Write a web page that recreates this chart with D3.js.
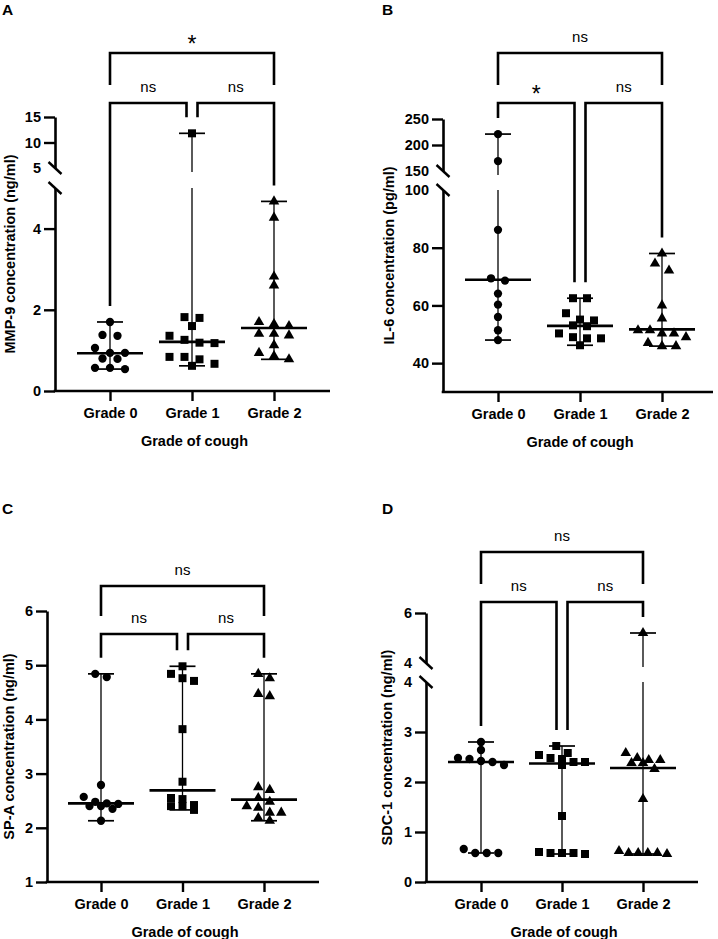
<!DOCTYPE html>
<html><head><meta charset="utf-8">
<script src="https://cdn.jsdelivr.net/npm/d3@7"></script>
<style>
body{margin:0;background:#fff}
svg{display:block}
text{font-family:"Liberation Sans",Arial,Helvetica,sans-serif;fill:#000}
</style>
</head><body>
<svg id="chart" width="718" height="939"></svg>
<script>
// ---------------- data ----------------
const categories = ["Grade 0", "Grade 1", "Grade 2"];
const xAxisTitle = "Grade of cough";

// A: MMP-9 (ng/ml)
const mmp9Grade0 = [1.70, 1.38, 1.36, 1.06, 0.94, 0.94, 0.80, 0.79, 0.57, 0.57, 0.54];
const mmp9Grade1 = [11.8, 1.82, 1.80, 1.60, 1.36, 1.26, 1.19, 1.18, 0.84, 0.84, 0.78, 0.67, 0.62];
const mmp9Grade2 = [4.67, 4.27, 2.82, 2.60, 1.70, 1.65, 1.60, 1.41, 1.37, 1.41, 1.13, 0.94, 0.86, 0.78];
const mmp9Medians = [0.93, 1.21, 1.55];
const mmp9TicksLower = [0, 2, 4];
const mmp9TicksUpper = [5, 10, 15];
const mmp9Sig = [["Grade 0", "Grade 2", "*"], ["Grade 0", "Grade 1", "ns"], ["Grade 1", "Grade 2", "ns"]];

// B: IL-6 (pg/ml)
const il6Grade0 = [221, 169, 86.2, 69.4, 68.6, 64.1, 60.3, 56.0, 51.4, 48.0];
const il6Grade1 = [62.5, 62.5, 57.3, 55.1, 54.8, 53.1, 52.8, 50.3, 49.0, 48.6, 48.6, 46.2];
const il6Grade2 = [78.0, 74.5, 72.1, 60.0, 55.5, 51.4, 51.4, 50.3, 50.3, 49.0, 47.0, 45.9, 45.9];
const il6Medians = [68.9, 52.9, 51.7];
const il6TicksLower = [40, 60, 80, 100];
const il6TicksUpper = [150, 200, 250];
const il6Sig = [["Grade 0", "Grade 2", "ns"], ["Grade 0", "Grade 1", "*"], ["Grade 1", "Grade 2", "ns"]];

// C: SP-A (ng/ml)
const spaGrade0 = [4.84, 4.78, 2.79, 2.57, 2.48, 2.45, 2.44, 2.40, 2.40, 2.35, 2.13];
const spaGrade1 = [4.98, 4.84, 4.76, 4.71, 3.82, 2.85, 2.55, 2.53, 2.42, 2.40, 2.40, 2.33];
const spaGrade2 = [4.84, 4.76, 4.47, 4.43, 2.75, 2.70, 2.55, 2.48, 2.40, 2.37, 2.28, 2.28, 2.18, 2.13];
const spaMedians = [2.45, 2.69, 2.52];
const spaTicks = [1, 2, 3, 4, 5, 6];
const spaSig = [["Grade 0", "Grade 2", "ns"], ["Grade 0", "Grade 1", "ns"], ["Grade 1", "Grade 2", "ns"]];

// D: SDC-1 (ng/ml)
const sdc1Grade0 = [2.80, 2.64, 2.48, 2.46, 2.42, 2.40, 2.34, 0.66, 0.58, 0.58, 0.58];
const sdc1Grade1 = [2.72, 2.58, 2.54, 2.48, 2.46, 2.40, 2.40, 2.34, 1.32, 0.60, 0.58, 0.58, 0.58, 0.56];
const sdc1Grade2 = [5.2, 2.58, 2.48, 2.44, 2.44, 2.38, 2.38, 2.26, 1.66, 0.62, 0.58, 0.58, 0.58, 0.58, 0.56];
const sdc1Medians = [2.40, 2.37, 2.28];
const sdc1TicksLower = [0, 1, 2, 3, 4];
const sdc1TicksUpper = [4, 6];
const sdc1Sig = [["Grade 0", "Grade 2", "ns"], ["Grade 0", "Grade 1", "ns"], ["Grade 1", "Grade 2", "ns"]];

// ---------------- layout ----------------
const panels = [
  { letter: "A", lx: 2, ly: 15, title: "MMP-9 concentration (ng/ml)", titleX: 10,
    groups: [mmp9Grade0, mmp9Grade1, mmp9Grade2], medians: mmp9Medians, sig: mmp9Sig,
    segments: [
      { domain: [0, 5], range: [391, 188], ticks: mmp9TicksLower, noTick: [], breakTop: true },
      { domain: [5, 15], range: [168, 117], ticks: mmp9TicksUpper, noTick: [5], breakBottom: true }],
    axisX: 55, xFirst: 110, xLast: 274, xEnd: 330, topY: 53, lowY: 103, step: 15 },
  { letter: "B", lx: 382, ly: 15, title: "IL-6 concentration (pg/ml)", titleX: 389,
    groups: [il6Grade0, il6Grade1, il6Grade2], medians: il6Medians, sig: il6Sig,
    segments: [
      { domain: [30, 100], range: [392, 190], ticks: il6TicksLower, noTick: [100], breakTop: true },
      { domain: [150, 250], range: [171, 119], ticks: il6TicksUpper, noTick: [150], breakBottom: true }],
    axisX: 443, xFirst: 498, xLast: 662, xEnd: 713, topY: 53, lowY: 103, step: 14 },
  { letter: "C", lx: 2, ly: 514, title: "SP-A concentration (ng/ml)", titleX: 9,
    groups: [spaGrade0, spaGrade1, spaGrade2], medians: spaMedians, sig: spaSig,
    segments: [
      { domain: [1, 6], range: [882, 611], ticks: spaTicks, noTick: [] }],
    axisX: 47, xFirst: 101, xLast: 264, xEnd: 319, topY: 586, lowY: 634, step: 11.5 },
  { letter: "D", lx: 382, ly: 514, title: "SDC-1 concentration (ng/ml)", titleX: 387,
    groups: [sdc1Grade0, sdc1Grade1, sdc1Grade2], medians: sdc1Medians, sig: sdc1Sig,
    segments: [
      { domain: [0, 4], range: [882, 682], ticks: sdc1TicksLower, noTick: [4], breakTop: true },
      { domain: [4, 6], range: [663, 613], ticks: sdc1TicksUpper, noTick: [4], breakBottom: true }],
    axisX: 426, xFirst: 481, xLast: 643, xEnd: 698, topY: 552, lowY: 602, step: 11.5 }
];

const symbols = [d3.symbolCircle, d3.symbolSquare, d3.symbolTriangle];
const symbolSizes = [54, 64, 48];
const FONT_B = 14.5;

const svg = d3.select("#chart");

panels.forEach(p => {
  const g = svg.append("g");
  const segs = p.segments.map(s => ({ ...s, scale: d3.scaleLinear().domain(s.domain).range(s.range) }));
  const y = v => {
    for (const s of segs) if (v >= s.domain[0] && v <= s.domain[1]) return s.scale(v);
    return segs[segs.length - 1].scale(v);
  };
  const segOf = v => segs.findIndex(s => v >= s.domain[0] && v <= s.domain[1]);
  const x = d3.scalePoint().domain(categories).range([p.xFirst, p.xLast]);
  const axisY = segs[0].range[0];

  // panel letter
  g.append("text").attr("x", p.lx).attr("y", p.ly).attr("font-size", 15.5).attr("font-weight", "bold").text(p.letter);

  // y axis segments
  segs.forEach(s => {
    const ax = d3.axisLeft(s.scale).tickValues(s.ticks).tickSize(11).tickSizeOuter(0).tickPadding(3).tickFormat(d => String(d));
    const ag = g.append("g").attr("transform", `translate(${p.axisX},0)`).call(ax);
    ag.select(".domain").attr("stroke", "#000").attr("stroke-width", 2.6);
    ag.selectAll(".tick line").attr("stroke", "#000").attr("stroke-width", 2.4)
      .filter(d => s.noTick.includes(d)).remove();
    ag.selectAll(".tick text").attr("font-size", FONT_B).attr("font-weight", "bold")
      .attr("font-family", '"Liberation Sans",Arial,sans-serif').attr("fill", "#000");
    // break slashes
    const slash = yy => g.append("line").attr("x1", p.axisX - 6.5).attr("y1", yy - 6)
      .attr("x2", p.axisX + 6.5).attr("y2", yy + 6).attr("stroke", "#000").attr("stroke-width", 2.4);
    if (s.breakTop) slash(s.range[1]);
    if (s.breakBottom) slash(s.range[0]);
  });

  // x axis
  const xa = d3.axisBottom(x).tickSize(10).tickSizeOuter(0).tickPadding(7);
  const xg = g.append("g").attr("transform", `translate(0,${axisY})`).call(xa);
  xg.select(".domain").remove();
  xg.selectAll(".tick line").attr("stroke", "#000").attr("stroke-width", 2.4);
  xg.selectAll(".tick text").attr("font-size", FONT_B).attr("font-weight", "bold")
    .attr("font-family", '"Liberation Sans",Arial,sans-serif').attr("fill", "#000");
  g.append("line").attr("x1", p.axisX - 1.3).attr("x2", p.xEnd).attr("y1", axisY).attr("y2", axisY)
    .attr("stroke", "#000").attr("stroke-width", 2.6);

  // axis titles
  g.append("text").attr("x", (p.axisX + p.xEnd) / 2 + 2).attr("y", axisY + 55)
    .attr("text-anchor", "middle").attr("font-size", FONT_B).attr("font-weight", "bold").text(xAxisTitle);
  const yTop = segs[segs.length - 1].range[1];
  g.append("text").attr("transform", `translate(${p.titleX},${(yTop + axisY) / 2}) rotate(-90)`)
    .attr("text-anchor", "middle").attr("dominant-baseline", "central")
    .attr("font-size", FONT_B).attr("font-weight", "bold").text(p.title);

  // groups
  p.groups.forEach((vals, gi) => {
    const cx = x(categories[gi]);
    const [mn, mx] = d3.extent(vals);
    // range line (with gap at axis break)
    const smx = segOf(mx), smn = segOf(mn);
    const vline = (y1, y2) => g.append("line").attr("x1", cx).attr("x2", cx).attr("y1", y1).attr("y2", y2)
      .attr("stroke", "#000").attr("stroke-width", 1.3);
    if (smx !== smn) {
      vline(y(mx), segs[smx].range[0] + 4);
      vline(segs[smn].range[1], y(mn));
    } else vline(y(mx), y(mn));
    [mx, mn].forEach(v => g.append("line").attr("x1", cx - 13).attr("x2", cx + 13)
      .attr("y1", y(v)).attr("y2", y(v)).attr("stroke", "#000").attr("stroke-width", 1.7));

    // beeswarm-like rows
    const pts = vals.map(v => ({ v, py: y(v) })).sort((a, b) => a.py - b.py);
    const rows = [];
    pts.forEach(pt => {
      const last = rows[rows.length - 1];
      if (last && pt.py - last[0].py < 7.5) last.push(pt); else rows.push([pt]);
    });
    rows.forEach(r => {
      const n = r.length;
      const st = n > 1 ? Math.min(p.step, 48 / (n - 1)) : 0;
      r.forEach((pt, i) => { pt.px = cx + (i - (n - 1) / 2) * st; });
    });
    g.selectAll(null).data(pts).enter().append("path")
      .attr("d", d3.symbol().type(symbols[gi]).size(symbolSizes[gi]))
      .attr("transform", d => `translate(${d.px},${d.py})`).attr("fill", "#000");

    // median
    g.append("line").attr("x1", cx - 33).attr("x2", cx + 33)
      .attr("y1", y(p.medians[gi])).attr("y2", y(p.medians[gi])).attr("stroke", "#000").attr("stroke-width", 2.6);
  });

  // significance brackets
  p.sig.forEach(([a, b, lab]) => {
    const ia = categories.indexOf(a), ib = categories.indexOf(b);
    const adjacent = Math.abs(ib - ia) === 1;
    let x1 = x(a), x2 = x(b);
    if (adjacent) { if (ia === 1) x1 += 5.5; if (ib === 1) x2 -= 5.5; }
    const by = adjacent ? p.lowY : p.topY;
    const legEnd = i => adjacent ? y(d3.max(p.groups[i])) - 16 : p.lowY - 18;
    g.append("path").attr("d", `M${x1},${legEnd(ia)}V${by}H${x2}V${legEnd(ib)}`)
      .attr("fill", "none").attr("stroke", "#000").attr("stroke-width", 2.6).attr("stroke-linejoin", "miter");
    const isStar = lab.includes("*");
    g.append("text").attr("x", (x1 + x2) / 2).attr("y", by - (isStar ? 1 : 11))
      .attr("text-anchor", "middle").attr("font-size", isStar ? 23 : 15).text(lab);
  });
});
</script>
</body></html>
